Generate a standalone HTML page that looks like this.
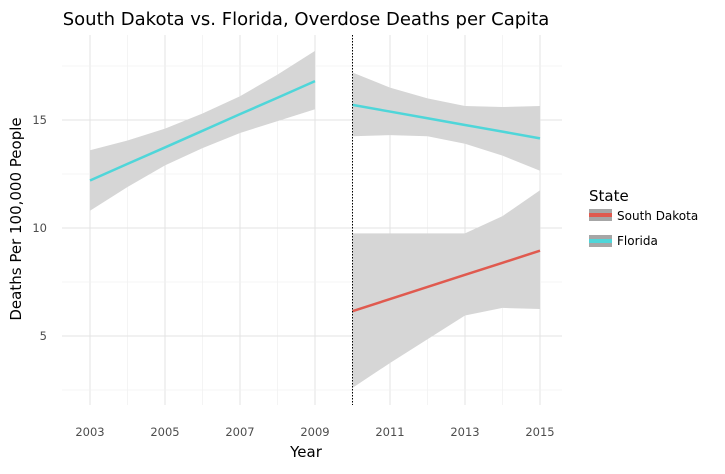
<!DOCTYPE html>
<html><head><meta charset="utf-8"><style>
body{margin:0;background:#fff;width:725px;height:469px;overflow:hidden}
text{font-family:"DejaVu Sans","Liberation Sans",sans-serif}
</style></head><body>
<svg id="chart" width="725" height="469">
<g id="grid"></g><g id="bands"></g><g id="lines"></g><g id="axes"></g>
<text x="306" y="25" font-size="18" text-anchor="middle" fill="#000">South Dakota vs. Florida, Overdose Deaths per Capita</text>
<text x="306" y="457" font-size="15" text-anchor="middle">Year</text>
<text transform="translate(21,219) rotate(-90)" font-size="15" text-anchor="middle">Deaths Per 100,000 People</text>
<g>
<text x="589" y="201" font-size="15">State</text>
<g><rect x="589" y="209" width="23" height="12" fill="#a6a6a6"/><rect x="589" y="213" width="23" height="4" fill="#e05a4f"/><text x="617" y="220" font-size="12">South Dakota</text></g>
<g><rect x="589" y="235" width="23" height="12" fill="#a6a6a6"/><rect x="589" y="239" width="23" height="4" fill="#4fd6d9"/><text x="617" y="245" font-size="12">Florida</text></g>
</g>
</svg>
<script>
const flYearsA=[2003,2004,2005,2006,2007,2008,2009];
const flFitA=[12.2,12.97,13.73,14.5,15.27,16.03,16.8];
const flUpA=[13.6,14.05,14.6,15.3,16.1,17.1,18.2];
const flLoA=[10.8,11.9,12.9,13.7,14.4,14.95,15.5];
const yearsB=[2010,2011,2012,2013,2014,2015];
const flFitB=[15.7,15.39,15.08,14.77,14.46,14.15];
const flUpB=[17.2,16.5,16.0,15.65,15.6,15.65];
const flLoB=[14.25,14.3,14.25,13.9,13.35,12.65];
const sdFit=[6.15,6.71,7.27,7.83,8.39,8.95];
const sdUp=[9.75,9.75,9.75,9.75,10.55,11.75];
const sdLo=[2.6,3.75,4.85,5.95,6.3,6.25];
const xTicks=[2003,2005,2007,2009,2011,2013,2015];
const yTicks=[5,10,15];
const cutYear=2010;
const X=v=>90+(v-2003)*37.5, Y=v=>120-(v-15)*21.6;
const NS="http://www.w3.org/2000/svg";
function mk(p,t,a){const e=document.createElementNS(NS,t);for(const k in a)e.setAttribute(k,a[k]);document.getElementById(p).appendChild(e);return e;}
for(let yr=2003;yr<=2015;yr++){const l=mk('grid','line',{x1:X(yr),x2:X(yr),y1:35,y2:405,stroke:xTicks.includes(yr)?'#e3e3e3':'#f2f2f2','stroke-width':xTicks.includes(yr)?1:0.8});

}
for(let v=2.5;v<=17.5;v+=2.5){const maj=yTicks.includes(v);const l=mk('grid','line',{x1:62,x2:562,y1:Y(v),y2:Y(v),stroke:maj?'#e3e3e3':'#f2f2f2','stroke-width':maj?1:0.8});

}
function band(xs,up,lo,name){const pts=xs.map((x,i)=>X(x)+','+Y(up[i])).concat(xs.map((x,i)=>X(x)+','+Y(lo[i])).reverse());const p=mk('bands','polygon',{points:pts.join(' '),fill:'#d6d6d6'});

}
function line(xs,ys,c,name){const p=mk('lines','polyline',{points:xs.map((x,i)=>X(x)+','+Y(ys[i])).join(' '),fill:'none',stroke:c,'stroke-width':2.5});

}
band(flYearsA,flUpA,flLoA,'florida-band-pre');
band(yearsB,flUpB,flLoB,'florida-band-post');
band(yearsB,sdUp,sdLo,'south-dakota-band');
line(flYearsA,flFitA,'#4fd6d9','florida-line-pre');
line(yearsB,flFitB,'#4fd6d9','florida-line-post');
line(yearsB,sdFit,'#e05a4f','south-dakota-line');
const cut=mk('axes','line',{x1:X(cutYear),x2:X(cutYear),y1:35,y2:405,stroke:'#000','stroke-dasharray':'1.5,1.5','stroke-width':1});


xTicks.forEach(t=>{const e=mk('axes','text',{x:X(t),y:436,'font-size':11.5,'text-anchor':'middle',fill:'#4d4d4d'});e.textContent=t;

});
yTicks.forEach(t=>{const e=mk('axes','text',{x:47,y:Y(t)+4,'font-size':11.5,'text-anchor':'end',fill:'#4d4d4d'});e.textContent=t;

});
</script>
</body></html>
